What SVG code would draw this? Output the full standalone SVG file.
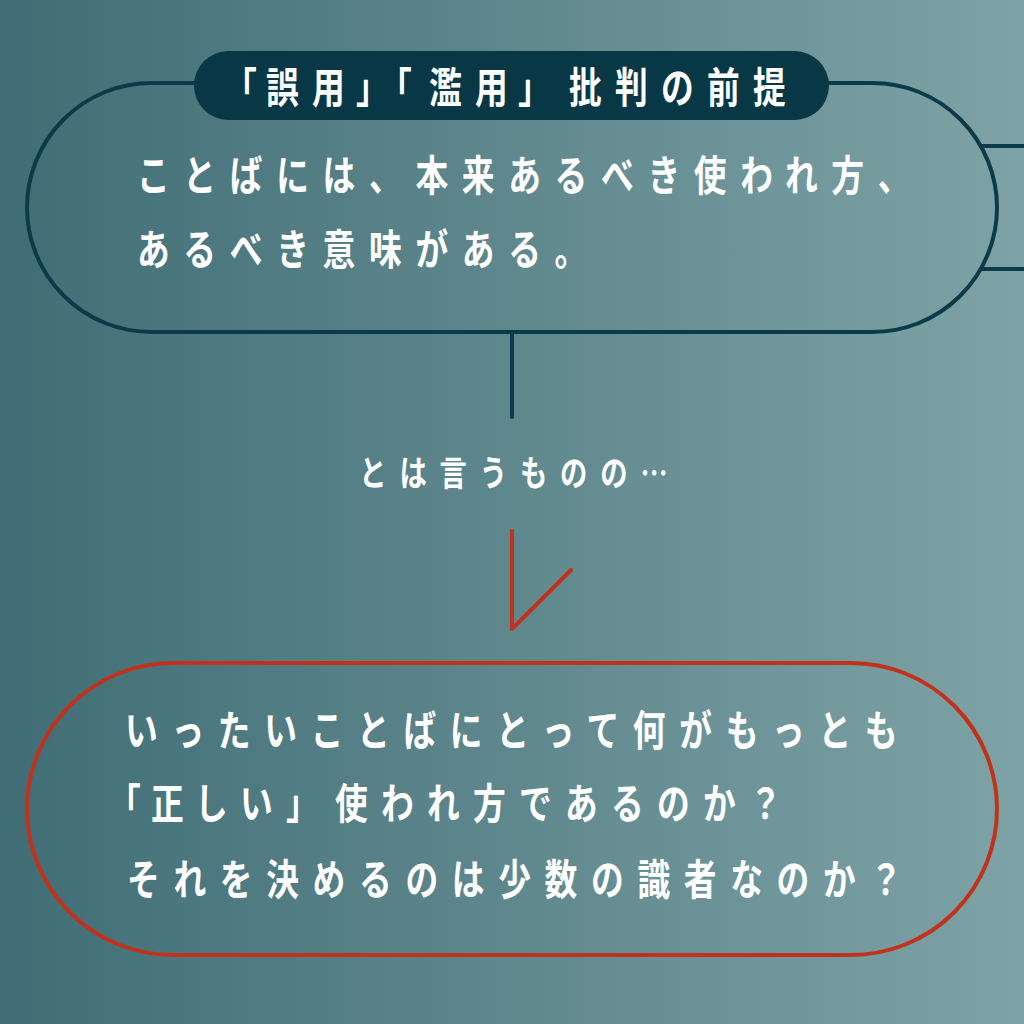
<svg xmlns="http://www.w3.org/2000/svg" width="1024" height="1024" viewBox="0 0 1024 1024">
<defs>
<linearGradient id="bg" x1="0" y1="0" x2="1" y2="0">
<stop offset="0" stop-color="#406d75"/>
<stop offset="1" stop-color="#7ea3a6"/>
</linearGradient>
<style>
.t{font-family:"Noto Sans CJK JP","Noto Sans CJK SC",sans-serif;font-weight:700;fill:#ffffff;}
.big{font-size:42px;letter-spacing:17.5px;}
.mid{font-size:35px;letter-spacing:16.5px;}
.dark{fill:none;stroke:#0b3a48;stroke-width:4;}
.red{fill:none;stroke:#c1321c;stroke-width:4;stroke-linecap:round;stroke-linejoin:round;}
</style>
</defs>
<rect width="1024" height="1024" fill="url(#bg)"/>
<g id="connectors">
<line class="dark" x1="980" y1="146" x2="1024" y2="146"/>
<line class="dark" x1="980" y1="269" x2="1024" y2="269"/>
<line class="dark" x1="512" y1="333" x2="512" y2="417" stroke-linecap="round"/>
<polyline class="red" points="512,531 512,629 571,570"/>
</g>
<g id="premise">
<rect class="dark" x="27" y="83" width="970" height="249" rx="124.5"/>
<g transform="scale(0.78 1)">
<text class="t big" x="175.6" y="191">ことばには、本来あるべき使われ方、</text>
<text class="t big" x="175.6" y="265">あるべき意味がある。</text>
</g>
</g>
<g id="title">
<rect x="194" y="51" width="635" height="69" rx="34.5" fill="#083846"/>
<g transform="scale(0.78 1)">
<text class="t big" letter-spacing="0" y="103" x="287.2 341 400 456.4 485.9 550 609 664.1 729.5 788.5 847.4 906.4 965.4">「誤用」「濫用」批判の前提</text>
</g>
</g>
<g id="middle">
<g transform="scale(0.78 1)">
<text class="t mid" x="460.6" y="486">とは言うものの…</text>
</g>
</g>
<g id="question">
<rect x="27" y="663" width="970" height="292" rx="146" fill="none" stroke="#c1321c" stroke-width="4"/>
<g transform="scale(0.78 1)">
<text class="t big" x="160.3" y="746">いったいことばにとって何がもっとも</text>
<text class="t big" letter-spacing="0" y="819" x="138.5 193.6 250 307.7 366.7 429.5 488.5 547.4 606.4 665.4 724.4 783.3 842.3 901.3 960.3">「正しい」使われ方であるのか？</text>
<text class="t big" x="162.8" y="895">それを決めるのは少数の識者なのか？</text>
</g>
</g>
</svg>
